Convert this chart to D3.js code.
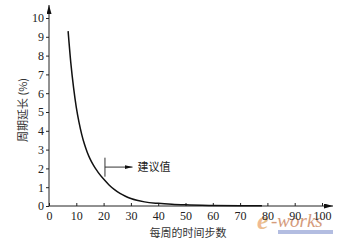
<!DOCTYPE html>
<html>
<head>
<meta charset="utf-8">
<script src="https://cdn.jsdelivr.net/npm/d3@7"></script>
<style>
  body { margin: 0; background: #fff; }
  svg { display: block; }
</style>
</head>
<body>
<div id="chart"></div>
<script>
var width = 342, height = 245;

// 曲线数据 (每周的时间步数 -> 周期延长 %)
var steps = [7, 8, 9, 10, 11, 12, 13, 14, 15, 16, 17, 18, 20, 22, 24, 26, 28, 30, 35, 40, 45, 50, 60, 70, 78];
var delays = [9.3, 7.6, 6.3, 5.25, 4.45, 3.8, 3.28, 2.86, 2.52, 2.24, 2.0, 1.79, 1.43, 1.12, 0.87, 0.67, 0.52, 0.4, 0.22, 0.14, 0.09, 0.06, 0.03, 0.015, 0.01];
var xTicks = [0, 10, 20, 30, 40, 50, 60, 70, 80, 90, 100];
var yTicks = [0, 1, 2, 3, 4, 5, 6, 7, 8, 9, 10];
// 建议值 marker
var markX = 20.5, markY = [1.56, 2.57], arrowY = 2.07, arrowEnd = 30.6;

var x = d3.scaleLinear().domain([0, 100]).range([49, 322]);
var y = d3.scaleLinear().domain([0, 10]).range([206, 18]);

var svg = d3.select("#chart").append("svg")
    .attr("width", width).attr("height", height);

var defs = svg.append("defs");
function addArrow(id, len, wid) {
    defs.append("marker")
        .attr("id", id)
        .attr("viewBox", "0 0 " + len + " " + wid)
        .attr("refX", len).attr("refY", wid / 2)
        .attr("markerWidth", len).attr("markerHeight", wid)
        .attr("markerUnits", "userSpaceOnUse")
        .attr("orient", "auto")
        .append("path").attr("d", "M0,0 L" + len + "," + (wid / 2) + " L0," + wid + " Z").attr("fill", "#111");
}
addArrow("arr", 9, 5);
addArrow("arr2", 8, 4);

var grad = defs.append("linearGradient").attr("id", "wm");
grad.append("stop").attr("offset", "0").attr("stop-color", "#f0a070");
grad.append("stop").attr("offset", "1").attr("stop-color", "#d8b060");

var font = "'Liberation Serif', 'DejaVu Serif', serif";
var cjk = "'Noto Sans CJK SC', sans-serif";

// watermark
var wm = svg.append("g").attr("opacity", 0.75);
wm.append("rect").attr("x", 278).attr("y", 230).attr("width", 55).attr("height", 4).attr("fill", "#9aa8d8");
wm.append("text").attr("x", 257).attr("y", 229)
    .attr("font-family", font).attr("font-style", "italic").attr("font-weight", "bold")
    .attr("font-size", 26).attr("fill", "url(#wm)").text("e");
wm.append("text").attr("x", 271).attr("y", 227)
    .attr("font-family", font).attr("font-style", "italic")
    .attr("font-size", 19).attr("fill", "#c87a50").text("-works");

// axes
var xAxis = d3.axisBottom(x).tickValues(xTicks).tickSizeInner(-3).tickSizeOuter(0).tickPadding(5);
var yAxis = d3.axisLeft(y).tickValues(yTicks).tickSizeInner(3).tickSizeOuter(0).tickPadding(2);

var gx = svg.append("g").attr("transform", "translate(0," + y(0) + ")").call(xAxis);
var gy = svg.append("g").attr("transform", "translate(" + x(0) + ",0)").call(yAxis);
gx.select(".domain").remove();
gy.select(".domain").remove();
[gx, gy].forEach(function(g) {
    g.selectAll("text").attr("font-family", font).attr("font-size", 12).attr("fill", "#222");
    g.selectAll("line").attr("stroke", "#222");
});
gx.selectAll("text").attr("y", 5).attr("dy", "0.75em");

svg.append("line")
    .attr("x1", x(0)).attr("y1", y(0)).attr("x2", 333).attr("y2", y(0))
    .attr("stroke", "#222").attr("marker-end", "url(#arr)");
svg.append("line")
    .attr("x1", x(0)).attr("y1", y(0)).attr("x2", x(0)).attr("y2", 5)
    .attr("stroke", "#222").attr("marker-end", "url(#arr)");

// curve
var pts = steps.map(function(s, i) { return [s, delays[i]]; });
svg.append("path")
    .datum(pts)
    .attr("fill", "none")
    .attr("stroke", "#111")
    .attr("stroke-width", 1.5)
    .attr("d", d3.line().x(function(d) { return x(d[0]); }).y(function(d) { return y(d[1]); }).curve(d3.curveMonotoneX));

// 建议值
svg.append("line")
    .attr("x1", x(markX)).attr("x2", x(markX))
    .attr("y1", y(markY[0])).attr("y2", y(markY[1]))
    .attr("stroke", "#333");
svg.append("line")
    .attr("x1", x(markX)).attr("x2", x(arrowEnd))
    .attr("y1", y(arrowY)).attr("y2", y(arrowY))
    .attr("stroke", "#333").attr("marker-end", "url(#arr2)");
svg.append("text")
    .attr("x", x(arrowEnd) + 5).attr("y", y(arrowY))
    .attr("dy", "0.35em")
    .attr("font-family", cjk).attr("font-size", 11).attr("fill", "#222")
    .text("建议值");

// axis titles
svg.append("text")
    .attr("x", 188).attr("y", 233)
    .attr("text-anchor", "middle")
    .attr("dy", "0.35em")
    .attr("font-family", cjk).attr("font-size", 11).attr("fill", "#333")
    .text("每周的时间步数");
svg.append("text")
    .attr("transform", "translate(23,110) rotate(-90)")
    .attr("text-anchor", "middle")
    .attr("dy", "0.35em")
    .attr("font-family", cjk).attr("font-size", 11).attr("fill", "#333")
    .text("周期延长 (%)");
</script>
</body>
</html>
